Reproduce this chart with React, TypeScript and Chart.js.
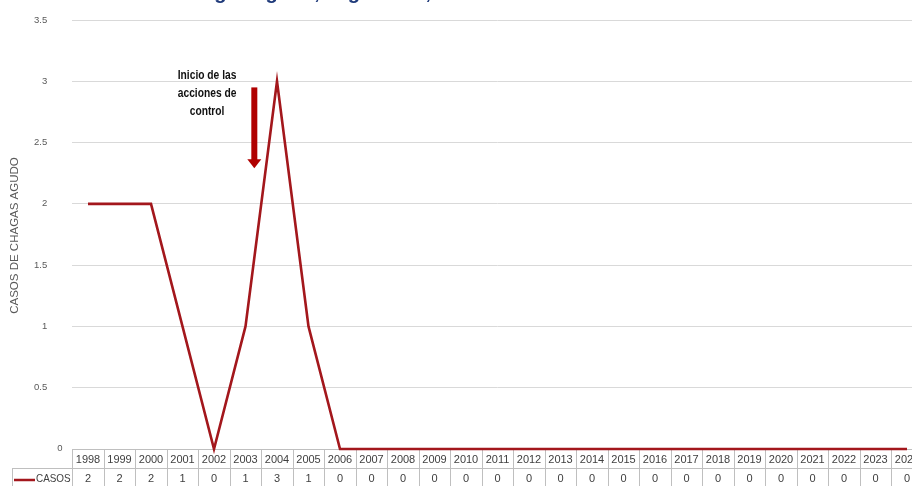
import React, { useEffect, useRef } from "react";
import { Chart, registerables } from "chart.js";

Chart.register(...registerables);

const YEARS = [
  "1998", "1999", "2000", "2001", "2002", "2003", "2004", "2005", "2006",
  "2007", "2008", "2009", "2010", "2011", "2012", "2013", "2014", "2015",
  "2016", "2017", "2018", "2019", "2020", "2021", "2022", "2023", "2024",
];
const CASOS = [2, 2, 2, 1, 0, 1, 3, 1, 0, 0, 0, 0, 0, 0, 0, 0, 0, 0, 0, 0, 0, 0, 0, 0, 0, 0, 0];
const SERIES_LABEL = "CASOS";
const Y_MIN = 0;
const Y_MAX = 3.5;
const Y_STEP = 0.5;
const AXIS_TITLE = "CASOS DE CHAGAS AGUDO";
const CHART_TITLE = "Casos de Chagas agudo, según año, 1998 - 2024";
const NOTE_LINES = ["Inicio de las", "acciones de", "control"];
// note anchored relative to category index / value
const NOTE_TEXT_AT = { index: 3.78, values: [3.05, 2.9, 2.75] };
const ARROW_AT = { index: 5.28, from: 2.95, to: 2.29 };

const CANVAS_W = 924;
const CANVAS_H = 486;
const PLOT_TOP = 20;
const PLOT_BOTTOM = 449;
const LINE_COLOR = "#A3171C";
const ARROW_COLOR = "#B00000";
const GRID_COLOR = "#D9D9D9";
const TABLE_COLOR = "#BFBFBF";
const TEXT_COLOR = "#404040";

const overlayPlugin = {
  id: "overlay",
  beforeDatasetsDraw(chart: any) {
    const { ctx, chartArea, scales } = chart;
    const x = scales.x;
    const n = YEARS.length;
    const step = n > 1 ? x.getPixelForValue(1) - x.getPixelForValue(0) : 30;
    const top = chartArea.bottom;
    const mid = top + 19;
    const bottom = CANVAS_H + 2;
    ctx.save();
    ctx.strokeStyle = TABLE_COLOR;
    ctx.lineWidth = 1;
    ctx.beginPath();
    const left = x.getPixelForValue(0) - step / 2;
    const right = x.getPixelForValue(n - 1) + step / 2;
    ctx.moveTo(left, top + 0.5);
    ctx.lineTo(right, top + 0.5);
    ctx.moveTo(12, mid + 0.5);
    ctx.lineTo(right, mid + 0.5);
    ctx.moveTo(12.5, mid);
    ctx.lineTo(12.5, bottom);
    for (let i = 0; i <= n; i++) {
      const bx = Math.round(x.getPixelForValue(i) - step / 2) + 0.5;
      ctx.moveTo(bx, top);
      ctx.lineTo(bx, bottom);
    }
    ctx.stroke();
    ctx.restore();
  },
  afterDraw(chart: any) {
    const { ctx, chartArea, scales } = chart;
    const x = scales.x;
    const y = scales.y;
    const n = YEARS.length;
    const step = n > 1 ? x.getPixelForValue(1) - x.getPixelForValue(0) : 30;
    const top = chartArea.bottom;
    ctx.save();
    // table text
    ctx.fillStyle = TEXT_COLOR;
    ctx.font = "11px 'Liberation Sans'";
    ctx.textAlign = "center";
    ctx.textBaseline = "middle";
    for (let i = 0; i < n; i++) {
      const cx = x.getPixelForValue(i);
      ctx.fillText(YEARS[i], cx, top + 10.5);
      ctx.fillText(String(CASOS[i]), cx, top + 30);
    }
    // legend key in table
    ctx.strokeStyle = LINE_COLOR;
    ctx.lineWidth = 2.5;
    ctx.beginPath();
    ctx.moveTo(14, top + 31);
    ctx.lineTo(35, top + 31);
    ctx.stroke();
    ctx.textAlign = "left";
    ctx.save();
    ctx.translate(36, top + 30);
    ctx.scale(0.9, 1);
    ctx.fillText(SERIES_LABEL, 0, 0);
    ctx.restore();
    // zero tick label
    ctx.fillStyle = "#595959";
    ctx.font = "9.5px 'Liberation Sans'";
    ctx.textAlign = "center";
    ctx.fillText(String(Y_MIN), 60, y.getPixelForValue(Y_MIN) - 1);
    // axis title
    ctx.save();
    ctx.translate(15, (chartArea.top + chartArea.bottom) / 2 + 1);
    ctx.rotate(-Math.PI / 2);
    ctx.font = "11.5px 'Liberation Sans'";
    ctx.fillStyle = "#595959";
    ctx.textAlign = "center";
    ctx.textBaseline = "middle";
    ctx.fillText(AXIS_TITLE, 0, 0);
    ctx.restore();
    // title (mostly cut off at the top)
    ctx.font = "bold 20px 'Liberation Sans'";
    ctx.fillStyle = "#1F3A7A";
    ctx.textAlign = "left";
    ctx.textBaseline = "alphabetic";
    ctx.fillText(CHART_TITLE, 82, -1.5);
    // note text
    const nx = x.getPixelForValue(0) + NOTE_TEXT_AT.index * step;
    ctx.fillStyle = "#111111";
    ctx.font = "bold 12.5px 'Liberation Sans'";
    ctx.textAlign = "center";
    ctx.textBaseline = "middle";
    NOTE_LINES.forEach((line, i) => {
      ctx.save();
      ctx.translate(nx, y.getPixelForValue(NOTE_TEXT_AT.values[i]));
      ctx.scale(0.82, 1);
      ctx.fillText(line, 0, 0);
      ctx.restore();
    });
    // arrow
    const ax = x.getPixelForValue(0) + ARROW_AT.index * step;
    const ay1 = y.getPixelForValue(ARROW_AT.from);
    const ay2 = y.getPixelForValue(ARROW_AT.to);
    ctx.fillStyle = ARROW_COLOR;
    ctx.fillRect(ax - 3, ay1, 6, ay2 - ay1 - 8);
    ctx.beginPath();
    ctx.moveTo(ax - 7, ay2 - 9);
    ctx.lineTo(ax + 7, ay2 - 9);
    ctx.lineTo(ax, ay2);
    ctx.closePath();
    ctx.fill();
    ctx.restore();
  },
};

export default function App() {
  const ref = useRef<HTMLCanvasElement | null>(null);
  useEffect(() => {
    if (!ref.current) return;
    const chart = new Chart(ref.current, {
      type: "line",
      data: {
        labels: YEARS,
        datasets: [
          {
            label: SERIES_LABEL,
            data: CASOS,
            borderColor: LINE_COLOR,
            backgroundColor: LINE_COLOR,
            borderWidth: 2.6,
            pointRadius: 0,
            tension: 0,
            clip: 6,
          } as any,
        ],
      },
      options: {
        responsive: false,
        animation: false,
        devicePixelRatio: 1,
        layout: { padding: { top: PLOT_TOP, left: 0, right: CANVAS_W - 922.75, bottom: 0 } },
        plugins: {
          legend: { display: false },
          tooltip: { enabled: false },
          title: { display: false },
        },
        scales: {
          x: {
            offset: true,
            grid: { display: false },
            border: { display: false },
            ticks: { display: false },
            afterFit: (s: any) => {
              s.height = CANVAS_H - PLOT_BOTTOM;
            },
          },
          y: {
            min: Y_MIN,
            max: Y_MAX,
            ticks: {
              stepSize: Y_STEP,
              padding: 25,
              color: "#595959",
              font: { size: 9.5, family: "'Liberation Sans'" },
              callback: (v: any) => (Number(v) === Y_MIN ? "" : String(v)),
            },
            grid: { color: GRID_COLOR, drawTicks: false, lineWidth: 1 },
            border: { display: false },
            afterFit: (s: any) => {
              s.width = 72.25;
              s.paddingTop = 0;
            },
          },
        },
      },
      plugins: [overlayPlugin],
    });
    return () => chart.destroy();
  }, []);
  return (
    <div
      style={{
        position: "absolute",
        left: 0,
        top: 0,
        width: 912,
        height: CANVAS_H,
        overflow: "hidden",
        background: "#fff",
      }}
    >
      <canvas ref={ref} width={CANVAS_W} height={CANVAS_H} style={{ display: "block" }} />
    </div>
  );
}
